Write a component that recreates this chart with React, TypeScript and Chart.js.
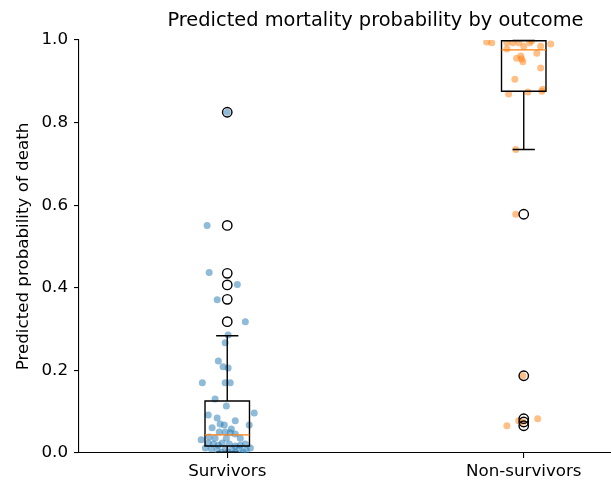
import React, { useEffect, useRef } from "react";
import { Chart, registerables } from "chart.js";
Chart.register(...registerables);

const categories = ["Survivors", "Non-survivors"];
const yTicks = [0, 0.2, 0.4, 0.6, 0.8, 1.0];

const survivorsValues = [
  0.825, 0.551, 0.437, 0.408, 0.371, 0.318, 0.286, 0.267, 0.223, 0.209,
  0.206, 0.17, 0.17, 0.17, 0.131, 0.114, 0.097, 0.092, 0.085, 0.078,
  0.07, 0.068, 0.068, 0.061, 0.058, 0.051, 0.051, 0.049, 0.046, 0.032,
  0.039, 0.036, 0.036, 0.036, 0.024, 0.022, 0.019, 0.024, 0.022, 0.017,
  0.019, 0.022, 0.01, 0.007, 0.01, 0.007, 0.01, 0.007, 0.002, 0.002,
  0.002, 0.002, 0.012, 0.012,
];
const survivorsJitter = [
  0, -0.068, -0.061, 0.034, -0.034, 0.061, 0.003, -0.007, -0.03, -0.014,
  0.003, -0.084, -0.007, 0.01, -0.041, -0.003, 0.091, -0.064, -0.034, 0.027,
  -0.024, -0.01, 0.074, -0.051, 0.014, -0.027, -0.007, 0.01, 0.027, -0.088,
  -0.061, -0.041, -0.003, 0.044, -0.064, -0.047, -0.03, -0.017, 0.007, 0.027,
  0.044, 0.061, -0.054, -0.034, -0.007, 0.017, 0.041, 0.064, -0.02, 0.003,
  0.027, 0.054, -0.074, 0.078,
];

const nonSurvivorsValues = [
  0.995, 0.993, 0.993, 0.993, 0.993, 0.993, 0.998, 0.985, 0.99, 0.978,
  0.968, 0.956, 0.961, 0.954, 0.947, 0.932, 0.905, 0.869, 0.874, 0.876,
  0.881, 0.735, 0.578, 0.187, 0.066, 0.078, 0.075, 0.083, 0.985,
];
const nonSurvivorsJitter = [
  -0.125, -0.108, -0.057, -0.037, -0.017, 0.02, 0.027, 0.057, 0.091, -0.057,
  0.044, -0.024, -0.01, -0.007, -0.003, 0.057, -0.03, -0.051, 0.014, 0.061,
  0.064, -0.027, -0.027, -0.003, -0.057, -0.017, -0.003, 0.047, 0.0,
];

// [lower whisker, Q1, median, Q3, upper whisker]
const survivorsBox = [0.002, 0.017, 0.044, 0.126, 0.284];
const nonSurvivorsBox = [0.735, 0.876, 0.976, 0.998, 0.999];

const survivorsFliers = [0.825, 0.551, 0.435, 0.407, 0.372, 0.318];
const nonSurvivorsFliers = [0.578, 0.187, 0.083, 0.075, 0.066];

const boxes = [survivorsBox, nonSurvivorsBox];
const BOX_HALF = 0.075;
const CAP_HALF = 0.0375;

const boxPlugin = {
  id: "boxPlugin",
  afterDatasetsDraw(chart: any) {
    const { ctx, scales, chartArea } = chart;
    const x = scales.x;
    const y = scales.y;
    ctx.save();
    ctx.beginPath();
    ctx.rect(chartArea.left, chartArea.top - 1, chartArea.right - chartArea.left, chartArea.bottom - chartArea.top + 2);
    ctx.clip();
    boxes.forEach((b, i) => {
      const pos = i + 1;
      const xl = x.getPixelForValue(pos - BOX_HALF);
      const xr = x.getPixelForValue(pos + BOX_HALF);
      const cl = x.getPixelForValue(pos - CAP_HALF);
      const cr = x.getPixelForValue(pos + CAP_HALF);
      const xc = x.getPixelForValue(pos);
      const [lo, q1, med, q3, hi] = b.map((v) => y.getPixelForValue(v));
      ctx.strokeStyle = "#000000";
      ctx.lineWidth = 1.4;
      ctx.beginPath();
      ctx.rect(xl, q3, xr - xl, q1 - q3);
      ctx.stroke();
      ctx.beginPath();
      ctx.moveTo(xc, q1);
      ctx.lineTo(xc, lo);
      ctx.moveTo(xc, q3);
      ctx.lineTo(xc, hi);
      ctx.moveTo(cl, lo);
      ctx.lineTo(cr, lo);
      ctx.moveTo(cl, hi);
      ctx.lineTo(cr, hi);
      ctx.stroke();
      ctx.strokeStyle = "#ff7f0e";
      ctx.beginPath();
      ctx.moveTo(xl, med);
      ctx.lineTo(xr, med);
      ctx.stroke();
    });
    ctx.restore();
  },
};

const FONT = "'DejaVu Sans', sans-serif";

export default function App() {
  const ref = useRef<HTMLCanvasElement | null>(null);
  useEffect(() => {
    if (!ref.current) return;
    const chart = new Chart(ref.current, {
      type: "scatter",
      data: {
        datasets: [
          {
            label: "Survivors fliers",
            data: survivorsFliers.map((v) => ({ x: 1, y: v })),
            backgroundColor: "rgba(0,0,0,0)",
            borderColor: "#000000",
            borderWidth: 1.4,
            pointRadius: 4.7,
            order: 0,
          },
          {
            label: "Non-survivors fliers",
            data: nonSurvivorsFliers.map((v) => ({ x: 2, y: v })),
            backgroundColor: "rgba(0,0,0,0)",
            borderColor: "#000000",
            borderWidth: 1.4,
            pointRadius: 4.7,
            order: 0,
          },
          {
            label: categories[0],
            data: survivorsValues.map((v, i) => ({ x: 1 + survivorsJitter[i], y: v })),
            backgroundColor: "rgba(31,119,180,0.5)",
            borderWidth: 0,
            pointRadius: 3.5,
            order: 1,
          },
          {
            label: categories[1],
            data: nonSurvivorsValues.map((v, i) => ({ x: 2 + nonSurvivorsJitter[i], y: v })),
            backgroundColor: "rgba(255,127,14,0.5)",
            borderWidth: 0,
            pointRadius: 3.5,
            order: 1,
          },
        ],
      },
      options: {
        responsive: false,
        animation: false,
        layout: { padding: { left: 1, right: 28, top: 0, bottom: 0 } },
        plugins: {
          legend: { display: false },
          tooltip: { enabled: false },
          title: {
            display: true,
            text: "Predicted mortality probability by outcome",
            fullSize: false,
            color: "#000000",
            font: { family: FONT, size: 19.4, weight: "normal", lineHeight: 1.2 },
            padding: { top: 9.4, bottom: 7.3 },
          },
        },
        scales: {
          x: {
            type: "linear",
            min: 0.5,
            max: 2.5,
            afterBuildTicks: (scale: any) => {
              scale.ticks = categories.map((_, i) => ({ value: i + 1 }));
            },
            afterFit: (scale: any) => {
              scale.height = 28;
            },
            ticks: {
              color: "#000000",
              font: { family: FONT, size: 16.7 },
              padding: 4,
              maxRotation: 0,
              autoSkip: false,
              callback: (v: any) => categories[Math.round(Number(v)) - 1] ?? "",
            },
            grid: { drawOnChartArea: false, drawTicks: true, tickLength: 5, color: "#000000", lineWidth: 1.1 },
            border: { display: true, color: "#000000", width: 1.1 },
          },
          y: {
            type: "linear",
            min: 0,
            max: 1,
            afterBuildTicks: (scale: any) => {
              scale.ticks = yTicks.map((v) => ({ value: v }));
            },
            afterFit: (scale: any) => {
              scale.width = 78;
            },
            ticks: {
              color: "#000000",
              font: { family: FONT, size: 16.7 },
              padding: 6,
              autoSkip: false,
              callback: (v: any) => Number(v).toFixed(1),
            },
            title: {
              display: true,
              text: "Predicted probability of death",
              color: "#000000",
              font: { family: FONT, size: 16.7, lineHeight: 1.2 },
              padding: { top: 13, bottom: 0 },
            },
            grid: { drawOnChartArea: false, drawTicks: true, tickLength: 5, color: "#000000", lineWidth: 1.1 },
            border: { display: true, color: "#000000", width: 1.1 },
          },
        },
      },
      plugins: [boxPlugin],
    });
    return () => chart.destroy();
  }, []);
  return (
    <div style={{ position: "absolute", left: 0, top: 0, width: 611, height: 481, overflow: "hidden", background: "#ffffff" }}>
      <canvas ref={ref} width={700} height={481} style={{ display: "block" }} />
    </div>
  );
}
